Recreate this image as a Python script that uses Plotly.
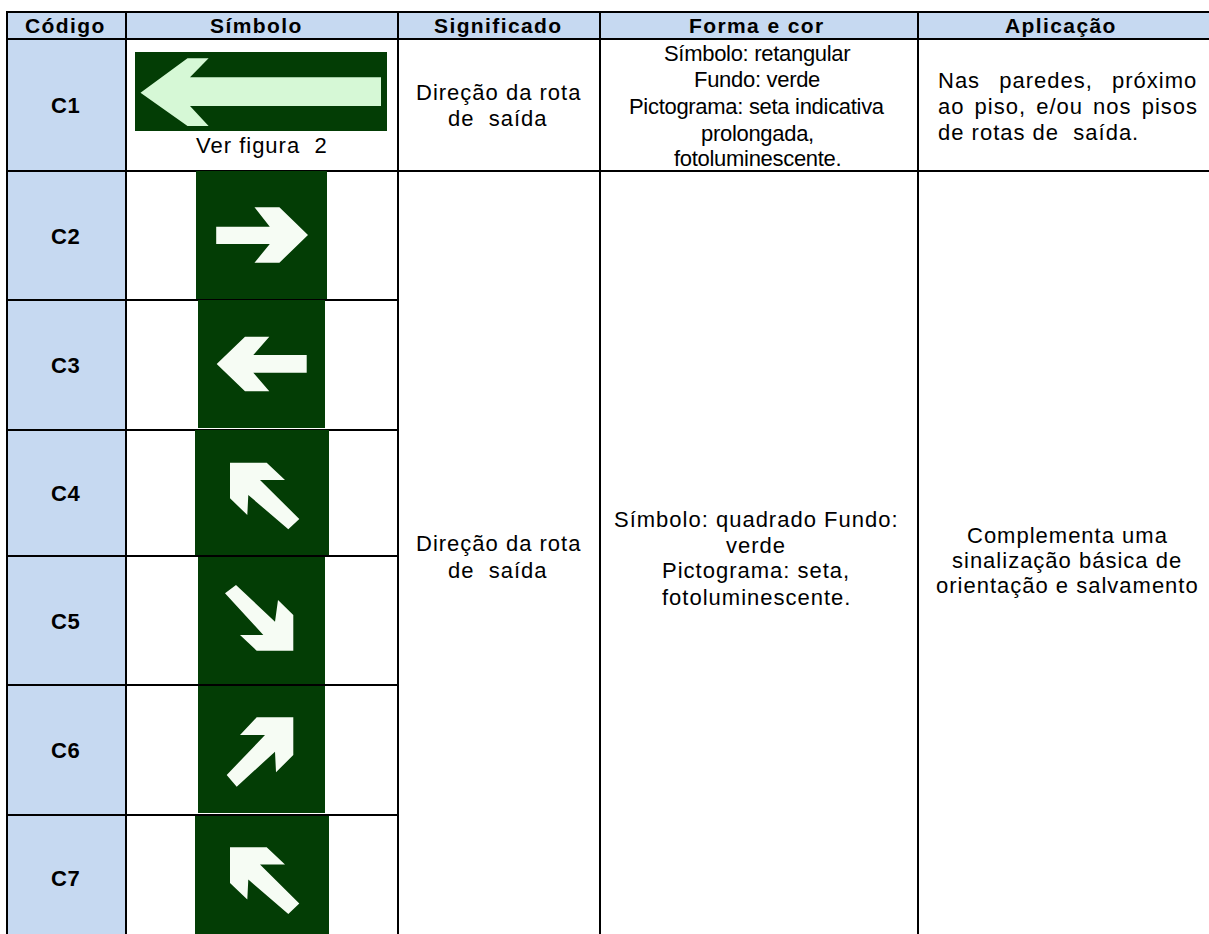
import plotly.graph_objects as go

HEADERS = ["Código", "Símbolo", "Significado", "Forma e cor", "Aplicação"]
CODES = ["C1", "C2", "C3", "C4", "C5", "C6", "C7"]
NB = "\u00a0"
SIG = ["Direção da rota", "de" + NB + NB + "saída"]
FORMA1 = ["Símbolo: retangular", "Fundo: verde", "Pictograma: seta indicativa", "prolongada,", "fotoluminescente."]
APLIC1 = ["Nas paredes, próximo", "ao piso, e/ou nos pisos", "de rotas de" + NB + NB + "saída."]
FORMA2 = ["Símbolo: quadrado Fundo:", "verde", "Pictograma: seta,", "fotoluminescente."]
APLIC2 = ["Complementa uma", "sinalização básica de", "orientação e salvamento"]
VER = "Ver figura" + NB + NB + "2"

BLUE = "#c6d9f1"
DARK = "#033d05"
PALE = "#d6f8d6"
WHITE = "#f6fcf4"
FONT = "Liberation Sans"

COL_X = [7, 126, 398, 600, 918]
ROW_Y = [12, 39, 171, 300, 430, 556, 685, 815]
RIGHT, BOTTOM = 1209, 934
CODE_Y = [105, 236, 365, 493, 621, 750, 878]

GREEN = [
    (135, 387, 52, 131), (196, 327, 171, 299), (198, 325, 300, 428), (195, 329, 430, 555),
    (198, 325, 557, 684), (198, 325, 686, 813), (195, 329, 816, 934),
]

ARROWS = [
    ([(140.5, 92.7), (187.5, 58.3), (208.6, 58.3), (190, 77.3), (381, 77.3), (381, 106), (190, 106), (208.6, 126), (187.5, 126)], PALE),
    ([(308, 235), (279.4, 207.3), (254.5, 207.3), (269.8, 226.7), (216.2, 226.7), (216.2, 244), (269.8, 244), (254.5, 262.7), (279.4, 262.7)], WHITE),
    ([(216.7, 364), (245, 336.7), (269.3, 336.7), (253.3, 355), (306.7, 355), (306.7, 372.7), (253.3, 372.7), (269.3, 391.3), (245, 391.3)], WHITE),
    ([(230, 462.7), (266.7, 462.7), (285, 480), (260, 480), (299.3, 519), (288.3, 529.3), (248.3, 495), (247.3, 515), (230, 498.3)], WHITE),
    ([(225, 593.3), (236, 585), (275, 621.7), (278, 600), (293.3, 615), (293.3, 650.7), (256.7, 650.7), (240, 635), (263.3, 635)], WHITE),
    ([(293.3, 717.3), (256.7, 717.3), (240, 735), (265, 735), (226.7, 775), (236.7, 786.7), (275, 751.7), (276, 772.3), (293.3, 755)], WHITE),
    ([(230, 847.3), (266.7, 847.3), (285, 864.6), (260, 864.6), (299.3, 903.6), (288.3, 913.9), (248.3, 879.6), (247.3, 899.6), (230, 882.9)], WHITE),
]

fig = go.Figure()
shapes = []


def rect(x0, x1, y0, y1, color):
    shapes.append(dict(type="rect", x0=x0, x1=x1, y0=y0, y1=y1, fillcolor=color, line_width=0, layer="below"))


def line(x0, y0, x1, y1):
    shapes.append(dict(type="line", x0=x0, y0=y0, x1=x1, y1=y1, line=dict(color="black", width=2), layer="below"))


rect(COL_X[0], RIGHT, ROW_Y[0], ROW_Y[1], BLUE)
rect(COL_X[0], COL_X[1], ROW_Y[1], BOTTOM, BLUE)
for y in ROW_Y[:3]:
    line(COL_X[0], y, RIGHT, y)
for y in ROW_Y[3:]:
    line(COL_X[0], y, COL_X[2], y)
for x in COL_X:
    line(x, ROW_Y[0] - 1, x, BOTTOM)

for x0, x1, y0, y1 in GREEN:
    fig.add_trace(go.Scatter(x=[x0, x1, x1, x0, x0], y=[y0, y0, y1, y1, y0], mode="lines", fill="toself",
                             fillcolor=DARK, line=dict(width=0), hoverinfo="skip", showlegend=False))
for pts, color in ARROWS:
    xs = [p[0] for p in pts] + [pts[0][0]]
    ys = [p[1] for p in pts] + [pts[0][1]]
    fig.add_trace(go.Scatter(x=xs, y=ys, mode="lines", fill="toself", fillcolor=color,
                             line=dict(width=0), hoverinfo="skip", showlegend=False))

annots = []


def text(s, x, y, size=22, bold=False, anchor="center", spacing=1.0, words=0):
    style = f"letter-spacing:{spacing}px;word-spacing:{words}px"
    body = f"<b>{s}</b>" if bold else s
    annots.append(dict(x=x, y=y, text=f'<span style="{style}">{body}</span>', showarrow=False, xanchor=anchor,
                       yanchor="middle", xref="x", yref="y", align="center",
                       font=dict(family=FONT, size=size, color="black"), borderpad=0))


for s, x in zip(HEADERS, [65.5, 256, 498, 757, 1061]):
    text(s, x, 25.5, size=21, bold=True, spacing=1.4)
for s, y in zip(CODES, CODE_Y):
    text(s, 65.5, y, size=22, bold=True, spacing=0.5)
text(VER, 262, 145)
for s, y in zip(SIG, [92.5, 118]):
    text(s, 498, y)
for s, y in zip(SIG, [543, 570]):
    text(s, 498, y)
for s, y in zip(FORMA1, [53, 79, 106, 133, 158]):
    text(s, 757, y, spacing=-0.3)
for s, y, w in zip(APLIC1, [80, 106, 132], [12, 3, 0]):
    text(s, 937, y, anchor="left", words=w)
for s, y in zip(FORMA2, [519, 545, 570, 597]):
    text(s, 756, y)
for s, y in zip(APLIC2, [535, 560, 585]):
    text(s, 1067, y)

fig.update_layout(
    width=1209, height=934, margin=dict(l=0, r=0, t=0, b=0), paper_bgcolor="white", plot_bgcolor="white",
    xaxis=dict(range=[0, 1209], visible=False, fixedrange=True),
    yaxis=dict(range=[934, 0], visible=False, fixedrange=True),
    shapes=shapes, annotations=annots, showlegend=False,
)
fig.write_html("out.html", config=dict(displayModeBar=False), post_script="document.body.style.margin='0';")
